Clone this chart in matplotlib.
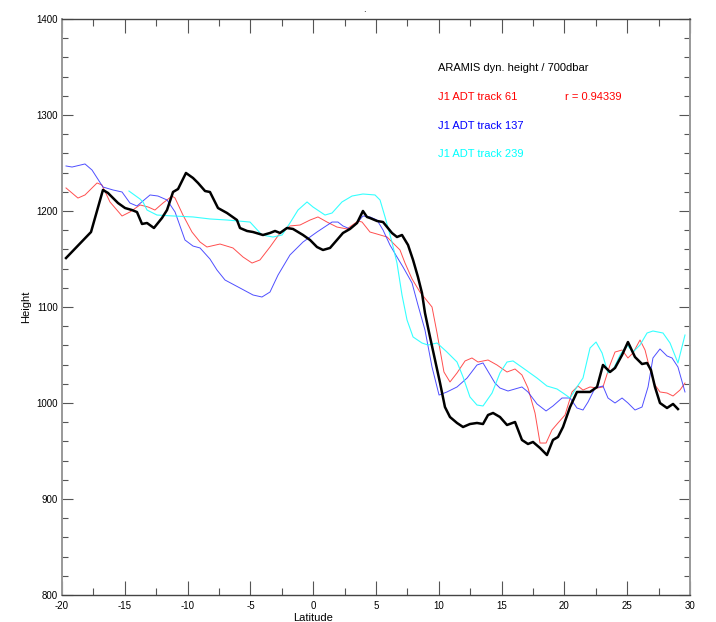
import matplotlib
matplotlib.use("Agg")
import matplotlib.pyplot as plt
from matplotlib.ticker import MultipleLocator

plt.rcParams['font.family'] = ['Liberation Sans Narrow', 'Liberation Sans', 'DejaVu Sans']
plt.rcParams['axes.unicode_minus'] = False

# ARAMIS dynamic height relative to 700 dbar
aramis_lat = [-19.68, -17.69, -16.74, -16.34, -15.54, -14.98, -14.43, -14.03, -13.63, -13.23,
              -12.68, -12.04, -11.64, -11.16, -10.76, -10.13, -9.57, -9.17, -8.61, -8.22,
              -7.58, -6.86, -6.07, -5.83, -5.27, -4.79, -4.00, -3.44, -3.04, -2.64,
              -2.09, -1.61, -0.81, -0.25, 0.30, 0.78, 1.34, 1.89, 2.37, 2.93,
              3.49, 3.96, 4.28, 4.52, 5.08, 5.56, 6.27, 6.67, 7.07, 7.55,
              7.95, 8.34, 8.66, 8.90, 9.30, 9.70, 10.10, 10.49, 10.89, 11.45,
              11.93, 12.48, 13.04, 13.52, 13.92, 14.32, 14.87, 15.43, 16.07, 16.62,
              17.10, 17.50, 18.06, 18.61, 19.09, 19.49, 19.89, 20.45, 21.00, 21.64,
              22.04, 22.60, 23.07, 23.63, 24.03, 24.59, 25.06, 25.62, 26.18, 26.58,
              26.89, 27.21, 27.61, 28.17, 28.65, 29.04]
aramis_h = [1151.0, 1178.1, 1221.9, 1218.8, 1208.3, 1203.1, 1201.0, 1198.9, 1186.5, 1187.5,
            1182.3, 1192.7, 1201.0, 1219.8, 1222.9, 1239.6, 1234.4, 1229.2, 1220.8, 1219.8,
            1203.1, 1197.9, 1190.6, 1182.3, 1179.2, 1178.1, 1175.0, 1177.1, 1179.2, 1177.1,
            1182.3, 1181.3, 1175.0, 1169.8, 1162.5, 1159.4, 1161.5, 1169.8, 1177.1, 1181.3,
            1187.5, 1200.0, 1193.8, 1192.7, 1189.6, 1188.5, 1177.1, 1172.9, 1175.0, 1164.6,
            1149.0, 1131.3, 1114.6, 1093.8, 1068.8, 1044.8, 1020.8, 995.8, 985.4, 979.2,
            975.0, 978.1, 979.2, 978.1, 987.5, 989.6, 985.4, 977.1, 980.2, 961.5,
            957.3, 959.4, 953.1, 945.8, 961.5, 964.6, 975.0, 995.8, 1011.5, 1011.5,
            1011.5, 1016.7, 1039.6, 1032.3, 1036.5, 1050.0, 1063.5, 1047.9, 1040.6, 1041.7,
            1034.4, 1016.7, 1000.0, 994.8, 999.0, 993.7]

# Jason-1 absolute dynamic topography, track 61
t61_lat = [-19.68, -18.73, -18.17, -17.21, -16.82, -16.18, -15.22, -14.59, -13.79, -13.15,
           -12.60, -11.96, -11.24, -11.00, -10.37, -9.65, -9.01, -8.46, -7.42, -6.39,
           -5.59, -4.87, -4.24, -3.44, -2.64, -1.85, -1.05, -0.25, 0.38, 1.10,
           1.89, 2.69, 3.57, 3.89, 4.52, 5.08, 5.88, 6.35, 6.91, 7.31,
           7.87, 8.50, 9.14, 9.46, 9.86, 10.41, 10.89, 11.45, 12.09, 12.64,
           13.12, 13.92, 14.63, 15.43, 16.07, 16.62, 17.10, 17.66, 18.06, 18.54,
           19.01, 19.49, 20.05, 20.61, 21.08, 21.48, 22.04, 22.60, 23.07, 23.63,
           24.03, 24.59, 25.06, 25.46, 26.02, 26.42, 26.82, 27.21, 27.61, 28.17,
           28.65, 29.20, 29.60]
t61_h = [1224.0, 1213.5, 1216.7, 1229.2, 1227.1, 1209.4, 1194.8, 1199.0, 1206.3, 1204.2,
         1201.0, 1208.3, 1215.6, 1213.5, 1195.8, 1178.1, 1167.7, 1162.5, 1165.6, 1161.5,
         1152.1, 1145.8, 1149.0, 1162.5, 1177.1, 1184.4, 1185.4, 1190.6, 1193.8, 1188.5,
         1183.3, 1181.3, 1189.6, 1188.5, 1178.1, 1176.0, 1172.9, 1166.7, 1159.4, 1145.8,
         1129.2, 1115.6, 1105.2, 1100.0, 1072.9, 1032.3, 1021.9, 1031.3, 1043.8, 1046.9,
         1042.7, 1044.8, 1039.6, 1032.3, 1035.4, 1029.2, 1015.6, 989.6, 958.3, 958.3,
         971.9, 979.2, 987.5, 1011.5, 1017.7, 1013.5, 1016.7, 1015.6, 1016.7, 1039.6,
         1053.1, 1055.2, 1046.9, 1052.1, 1065.6, 1055.2, 1034.4, 1018.8, 1011.5, 1010.4,
         1007.3, 1013.5, 1020.8]

# Jason-1 absolute dynamic topography, track 137
t137_lat = [-19.68, -19.20, -18.17, -17.61, -16.74, -15.94, -15.22, -14.59, -14.03, -12.99,
            -12.36, -11.64, -11.00, -10.21, -9.57, -9.01, -8.22, -7.66, -7.02, -5.83,
            -4.79, -4.08, -3.44, -2.80, -1.85, -0.81, 0.30, 1.50, 1.97, 2.37,
            2.93, 3.49, 3.96, 4.52, 5.08, 5.56, 6.11, 6.67, 7.15, 7.87,
            8.34, 8.90, 9.46, 10.02, 10.65, 11.45, 12.25, 13.04, 13.52, 14.47,
            14.87, 15.51, 16.62, 17.10, 17.82, 18.54, 19.09, 19.81, 20.45, 21.00,
            21.48, 21.88, 22.44, 23.07, 23.47, 24.03, 24.59, 25.06, 25.62, 26.18,
            26.66, 27.05, 27.61, 28.17, 28.57, 29.04, 29.60]
t137_h = [1246.9, 1245.8, 1249.0, 1242.7, 1225.0, 1221.9, 1219.8, 1208.3, 1205.2, 1216.7,
          1215.6, 1211.5, 1199.0, 1169.8, 1163.5, 1161.5, 1150.0, 1138.5, 1128.1, 1119.8,
          1112.5, 1110.4, 1115.6, 1133.3, 1154.2, 1167.7, 1178.1, 1188.5, 1188.5, 1184.4,
          1181.3, 1187.5, 1194.8, 1193.8, 1190.6, 1180.2, 1164.6, 1152.1, 1141.7, 1125.0,
          1102.1, 1076.0, 1037.5, 1008.3, 1011.5, 1016.7, 1026.0, 1039.6, 1041.7, 1020.8,
          1015.6, 1012.5, 1016.7, 1011.5, 999.0, 991.7, 996.9, 1005.2, 1005.2, 994.8,
          992.7, 1001.0, 1015.6, 1017.7, 1005.2, 1000.0, 1005.2, 1000.0, 992.7, 995.8,
          1016.7, 1046.9, 1056.3, 1049.0, 1046.9, 1037.5, 1011.5]

# Jason-1 absolute dynamic topography, track 239
t239_lat = [-14.67, -13.79, -13.55, -13.23, -12.44, -11.16, -9.57, -8.22, -6.86, -5.03,
            -4.08, -3.20, -2.48, -1.85, -1.21, -0.49, -0.02, 0.94, 1.50, 2.29,
            3.09, 3.96, 4.92, 5.32, 5.72, 6.27, 6.67, 7.07, 7.47, 7.95,
            8.66, 9.14, 9.86, 10.65, 11.45, 11.93, 12.48, 13.04, 13.52, 14.24,
            14.87, 15.43, 15.91, 16.70, 17.82, 18.61, 19.41, 19.89, 20.45, 21.00,
            21.48, 22.04, 22.52, 23.00, 23.47, 23.87, 24.43, 24.98, 25.46, 26.02,
            26.58, 27.05, 27.85, 28.41, 29.04, 29.60]
t239_h = [1220.8, 1212.5, 1209.4, 1201.0, 1195.8, 1194.8, 1193.8, 1191.7, 1190.6, 1188.5,
          1175.0, 1172.9, 1175.0, 1187.5, 1201.0, 1209.4, 1204.2, 1195.8, 1197.9, 1209.4,
          1215.6, 1217.7, 1216.7, 1211.5, 1193.8, 1167.7, 1145.8, 1112.5, 1086.5, 1068.8,
          1062.5, 1060.4, 1062.5, 1053.1, 1042.7, 1027.1, 1006.3, 997.9, 996.9, 1010.4,
          1031.3, 1042.7, 1043.8, 1036.5, 1026.0, 1017.7, 1014.6, 1010.4, 1005.2, 1016.7,
          1026.0, 1057.3, 1063.5, 1052.1, 1031.3, 1034.4, 1050.0, 1060.4, 1053.1, 1060.4,
          1072.9, 1075.0, 1072.9, 1062.5, 1041.7, 1070.8]

legend_labels = ["ARAMIS dyn. height / 700dbar", "J1 ADT track 61",
                 "J1 ADT track 137", "J1 ADT track 239"]
legend_colors = ["black", "#ff0000", "#0000ff", "#00ffff"]
corr_label = "r = 0.94339"

fig = plt.figure(figsize=(7.16, 6.22), dpi=100)
ax = fig.add_axes([62 / 716, 1 - 595 / 622, 628 / 716, 576 / 622])

ax.plot(t61_lat, t61_h, color="#ff3030", lw=0.7, alpha=0.85)
ax.plot(t137_lat, t137_h, color="#3030ff", lw=0.7, alpha=0.85)
ax.plot(t239_lat, t239_h, color="#20ffff", lw=0.8, alpha=0.9)
ax.plot(aramis_lat, aramis_h, color="black", lw=1.8)

ax.set_xlim(-20, 30)
ax.set_ylim(800, 1400)
ax.xaxis.set_major_locator(MultipleLocator(5))
ax.xaxis.set_minor_locator(MultipleLocator(2.5))
ax.yaxis.set_major_locator(MultipleLocator(100))
ax.yaxis.set_minor_locator(MultipleLocator(20))
ax.tick_params(which="both", direction="in", top=True, right=True,
               colors="#555555", labelcolor="black", labelsize=7)
ax.tick_params(axis="x", which="major", length=10, width=0.8, pad=4)
ax.tick_params(axis="x", which="minor", length=5, width=0.8)
ax.tick_params(axis="y", which="major", length=8, width=0.8, pad=3)
ax.tick_params(axis="y", which="minor", length=4, width=0.8)

# keep the lowest height label clear of the first latitude label
for lbl in ax.get_yticklabels():
    lbl.set_verticalalignment("center_baseline")

for side in ("left", "right"):
    ax.spines[side].set_color("#999999")
    ax.spines[side].set_linewidth(1.4)
for side in ("top", "bottom"):
    ax.spines[side].set_color("#444444")
    ax.spines[side].set_linewidth(1.0)

ax.set_ylabel("Height", fontsize=8, labelpad=4)
fig.text(313 / 716, 1 - 613 / 622, "Latitude", ha="center", va="top", fontsize=8)
fig.text(364 / 716, 1 - 12 / 622, ".", ha="center", va="baseline", fontsize=7)

# Legend entries as colored text
ys = [68, 97, 126, 154]
for lab, col, yp in zip(legend_labels, legend_colors, ys):
    fig.text(438 / 716, 1 - yp / 622, lab, color=col, fontsize=8, ha="left", va="center")
fig.text(565 / 716, 1 - 97 / 622, corr_label, color="#ff0000", fontsize=8,
         ha="left", va="center")

fig.savefig("out.png", dpi=100)
